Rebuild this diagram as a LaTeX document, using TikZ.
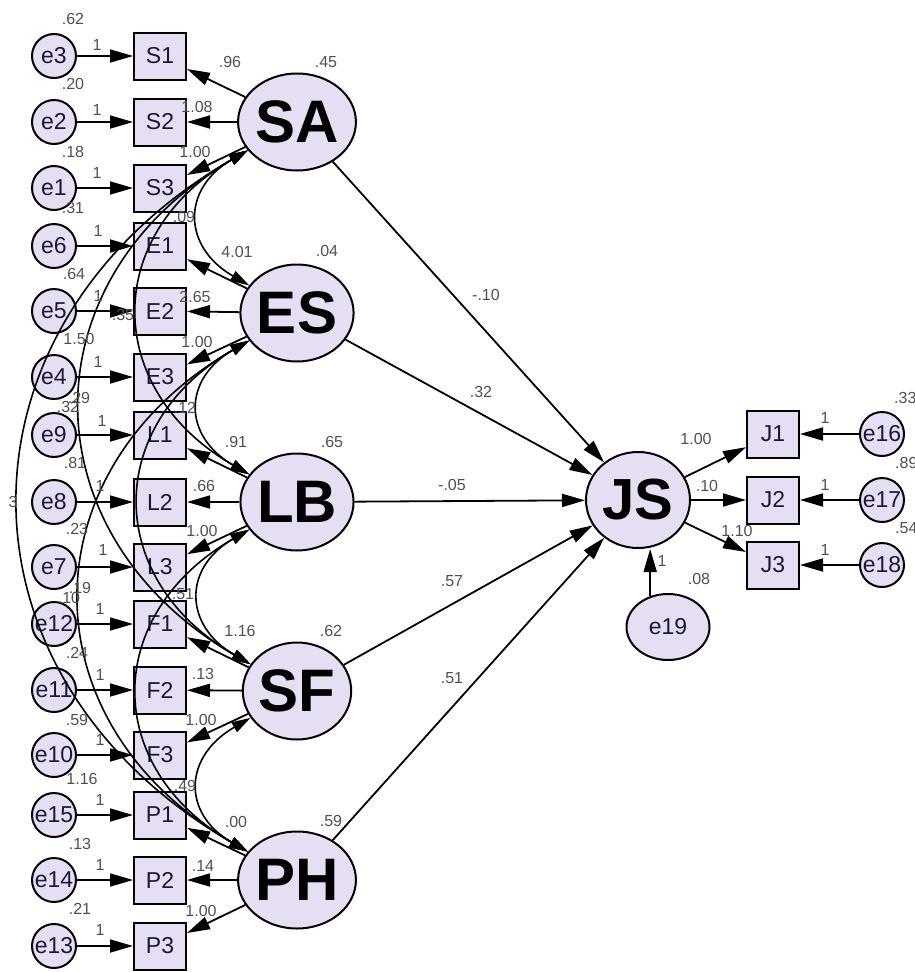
\documentclass[tikz,border=0pt]{standalone}
\usepackage{fontspec}
\setmainfont{Liberation Sans}
\usetikzlibrary{shapes.geometric,arrows.meta}
\definecolor{fillc}{RGB}{230,222,242}
\definecolor{numc}{RGB}{80,80,80}
\definecolor{txtc}{RGB}{25,25,55}
\newcommand\covarc[4]{\draw[cov] (#1.210) .. controls +(210:#3) and +(150:#3) .. (#2.150);}
\begin{document}
\begin{tikzpicture}[x=1pt,y=1pt,
  lat/.style={ellipse,draw,line width=2pt,fill=fillc,minimum width=104pt,minimum height=97pt,inner sep=0pt,font=\fontsize{60}{60}\selectfont\bfseries},
  obs/.style={rectangle,draw,line width=2pt,fill=fillc,minimum width=52pt,minimum height=47pt,inner sep=0pt,font=\fontsize{23}{23}\selectfont,text=txtc},
  err/.style={circle,draw,line width=2pt,fill=fillc,minimum size=44pt,inner sep=0pt,font=\fontsize{23}{23}\selectfont,text=txtc},
  arr/.style={line width=1.8pt,-{Triangle[length=23pt,width=13pt]}},
  cov/.style={line width=1.6pt,{Triangle[length=19pt,width=11pt]}-{Triangle[length=19pt,width=11pt]}},
  num/.style={font=\fontsize{16}{16}\selectfont,text=numc,inner sep=0pt},
]
\useasboundingbox (0,0) rectangle (915,-972);
\clip (0,0) rectangle (915,-972);
% latent variables
\node[lat] (SA) at (297,-122) {SA};
\node[lat] (ES) at (297,-313) {ES};
\node[lat] (LB) at (297,-502) {LB};
\node[lat] (SF) at (297,-691) {SF};
\node[lat] (PH) at (297,-880) {PH};
\node[lat,minimum height=96pt,font=\fontsize{58}{58}\selectfont\bfseries] (JS) at (638,-500) {JS};
% observed
\foreach \n/\y in {S1/56,S2/122,S3/188,E1/246,E2/311,E3/377,L1/435,L2/502,L3/567,F1/624,F2/690,F3/755,P1/815,P2/880,P3/946}
  \node[obs] (\n) at (160,-\y) {\n};
\foreach \n/\y in {J1/434,J2/500,J3/565}
  \node[obs] (\n) at (773,-\y) {\n};
% errors
\foreach \n/\y in {e3/56,e2/122,e1/188,e6/246,e5/311,e4/377,e9/435,e8/502,e7/567,e12/624,e11/690,e10/755,e15/815,e14/880,e13/946}
  \node[err] (\n) at (54,-\y) {\n};
\foreach \n/\y in {e16/434,e17/500,e18/565}
  \node[err] (\n) at (882,-\y) {\n};
\node[err,ellipse,minimum width=83pt,minimum height=66pt] (e19) at (668,-627) {e19};
% error -> indicator
\foreach \e/\b in {e3/S1,e2/S2,e1/S3,e6/E1,e5/E2,e4/E3,e9/L1,e8/L2,e7/L3,e12/F1,e11/F2,e10/F3,e15/P1,e14/P2,e13/P3,e16/J1,e17/J2,e18/J3}
  \draw[arr] (\e) -- (\b);
% loadings
\foreach \l/\a/\b/\c in {SA/S1/S2/S3,ES/E1/E2/E3,LB/L1/L2/L3,SF/F1/F2/F3,PH/P1/P2/P3}{
  \draw[arr] (\l) -- (\a);
  \draw[arr] (\l) -- (\b);
  \draw[arr] (\l) -- (\c);
}
\draw[arr] (JS) -- (J1);
\draw[arr] (JS) -- (J2);
\draw[arr] (JS) -- (J3);
% structural
\foreach \l in {SA,ES,LB,SF,PH}
  \draw[arr] (\l) -- (JS);
\draw[arr] (e19.120) -- (e19.120 |- JS.south);
% covariances
\covarc{SA}{ES}{77}{}
\covarc{ES}{LB}{77}{}
\covarc{LB}{SF}{77}{}
\covarc{SF}{PH}{77}{}
\covarc{SA}{LB}{169}{}
\covarc{ES}{SF}{169}{}
\covarc{LB}{PH}{169}{}
\covarc{SA}{SF}{258}{}
\covarc{ES}{PH}{258}{}
\covarc{SA}{PH}{351}{}
% labels: error variances
\foreach \t/\x/\y [count=\i] in {.62/73/19,.20/73/84,.18/73/152,.31/73/208,.64/74/274,1.50/79/339,.29/79/398,.81/75/463,.23/77/529,.19/80/588,.24/77/653,.59/77/720,1.16/82/779,.13/80/844,.21/80/909}
  \node[num] (ev\i) at (\x,-\y) {\t};
% unit loadings
\foreach \x/\y [count=\i] in {97/45,97/110,97/173,98/231,98/296,98/362,102/421,100/486,103/550,100/609,100/675,100/740,100/800,100/865,100/930,825/418,825/485,825/550,662/561}
  \node[num] (one\i) at (\x,-\y) {1};
% covariance labels
\foreach \t/\x/\y [count=\i] in {.32/68/407,.10/69/598,.09/184/217,.12/185/408,.51/183/594,.49/185/786,.35/123/315,3/13/502}
  \node[num] (cv\i) at (\x,-\y) {\t};
% loading labels
\foreach \t/\x/\y [count=\i] in {.96/230/62,1.08/197/107,1.00/195/152,4.01/237/252,2.65/195/297,1.00/197/342,.91/236/442,.66/204/486,1.00/202/531,1.16/240/631,.13/203/674,1.00/201/720,.00/236/822,.14/203/866,1.00/201/911}
  \node[num] (ld\i) at (\x,-\y) {\t};
% latent variances
\foreach \t/\x/\y [count=\i] in {.45/326/62,.04/327/251,.65/332/442,.62/331/631,.59/331/821}
  \node[num] (lv\i) at (\x,-\y) {\t};
% structural labels
\foreach \t/\x/\y [count=\i] in {-.10/486/295,.32/481/392,-.05/452/485,.57/452/581,.51/452/678}
  \node[num] (st\i) at (\x,-\y) {\t};
% JS side labels
\foreach \t/\x/\y [count=\i] in {1.00/696/439,.10/707/486,1.10/737/531,.08/699/579}
  \node[num] (jl\i) at (\x,-\y) {\t};
\foreach \t/\x/\y [count=\i] in {.33/894/398,.89/895/463,.54/895/528}
  \node[num,anchor=west] (jv\i) at (\x,-\y) {\t};
\end{tikzpicture}
\end{document}
